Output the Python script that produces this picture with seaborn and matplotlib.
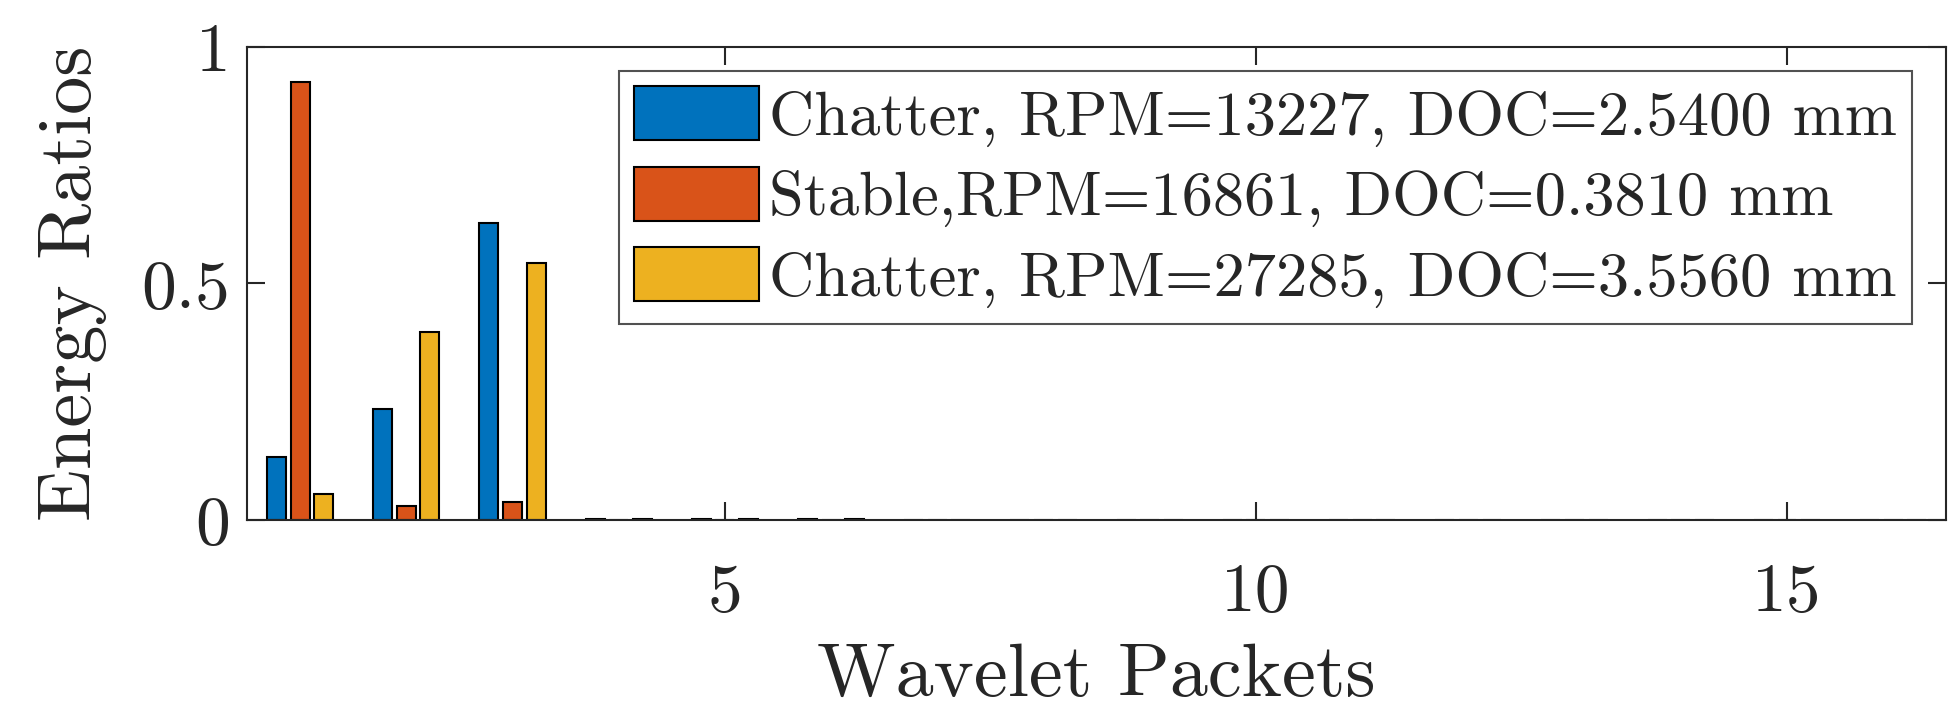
import pandas as pd
import seaborn as sns
import matplotlib.pyplot as plt

# energy ratio per wavelet packet
packets = list(range(1, 17))
chatter_13227 = [0.133, 0.235, 0.627, 0.002, 0.001, 0.001, 0.0005, 0.0005,
                 0.0005, 0.0005, 0.0005, 0.0005, 0.0005, 0.0005, 0.0005, 0.0005]
stable_16861 = [0.927, 0.030, 0.038, 0.0005, 0.0005, 0.0005, 0.0005, 0.0005,
                0.0005, 0.0005, 0.0005, 0.0005, 0.0005, 0.0005, 0.0005, 0.0005]
chatter_27285 = [0.054, 0.397, 0.543, 0.002, 0.001, 0.001, 0.0005, 0.0005,
                 0.0005, 0.0005, 0.0005, 0.0005, 0.0005, 0.0005, 0.0005, 0.0005]
labels = [
    "Chatter, RPM=13227, DOC=2.5400 mm",
    "Stable,RPM=16861, DOC=0.3810 mm",
    "Chatter, RPM=27285, DOC=3.5560 mm",
]
colors = ["#0072BD", "#D95319", "#EDB120"]

df = pd.concat(
    [
        pd.DataFrame({"packet": packets, "ratio": vals, "case": lab})
        for vals, lab in zip([chatter_13227, stable_16861, chatter_27285], labels)
    ],
    ignore_index=True,
)

sns.set_style("ticks")
plt.rcParams["font.family"] = ["cmr10", "DejaVu Serif"]
plt.rcParams["axes.formatter.use_mathtext"] = True
plt.rcParams["mathtext.fontset"] = "cm"

fig = plt.figure(figsize=(19.6, 7.14), dpi=100)
ax = fig.add_axes([0.126, 0.272, 0.867, 0.662])

sns.barplot(
    data=df, x="packet", y="ratio", hue="case", native_scale=True,
    palette=colors, width=0.667, gap=0.2, errorbar=None,
    edgecolor="black", linewidth=1.5, saturation=1, ax=ax,
)

ax.set_xlim(0.5, 16.5)
ax.set_ylim(0, 1)
ax.set_xticks([5, 10, 15])
ax.set_xticklabels(["5", "10", "15"])
ax.set_yticks([0, 0.5, 1])
ax.set_yticklabels(["0", "0.5", "1"])

dark = "#262626"
for s in ax.spines.values():
    s.set_visible(True)
    s.set_color(dark)
    s.set_linewidth(1.5)
ax.tick_params(direction="in", length=13, width=1.5, colors=dark,
               labelsize=50, top=True, right=True, pad=12)
ax.tick_params(axis="x", pad=31)

ax.set_xlabel("Wavelet Packets", fontsize=55, color=dark, labelpad=14)
ax.set_ylabel("Energy Ratios", fontsize=55, color=dark, labelpad=25)

leg = ax.legend(
    loc="upper right", bbox_to_anchor=(0.98, 0.95), borderaxespad=0,
    fontsize=45, handlelength=2.0, handleheight=0.95, handletextpad=0.15,
    labelspacing=0.32, borderpad=0.25, frameon=True, fancybox=False,
)
leg.get_frame().set_edgecolor(dark)
leg.get_frame().set_linewidth(1.5)

fig.savefig("out.png", dpi=100)
